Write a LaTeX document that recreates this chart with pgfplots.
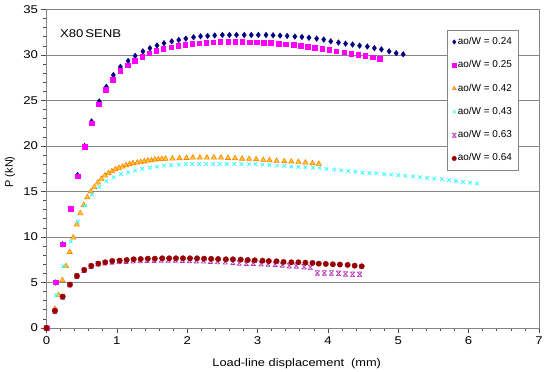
\documentclass[border=0pt]{standalone}
\usepackage{fontspec}
\setmainfont{Liberation Sans}
\newfontfamily\widefont[FakeStretch=1.17]{Liberation Sans}
\usepackage{pgfplots}
\pgfplotsset{compat=1.18}
\usetikzlibrary{calc}
\definecolor{navyd}{HTML}{000080}
\definecolor{pinkm}{HTML}{FF00FF}
\definecolor{orgline}{HTML}{FF8000}
\definecolor{orgfill}{HTML}{FFCC33}
\definecolor{cyanx}{HTML}{33FFFF}
\definecolor{purpx}{HTML}{B833B8}
\definecolor{darkred}{HTML}{990000}
\definecolor{gridg}{HTML}{858585}

% x with short bars top and bottom (Excel "star" look)
\pgfdeclareplotmark{xbar}{%
  \pgfpathmoveto{\pgfqpoint{-\pgfplotmarksize}{\pgfplotmarksize}}%
  \pgfpathlineto{\pgfqpoint{\pgfplotmarksize}{-\pgfplotmarksize}}%
  \pgfpathmoveto{\pgfqpoint{-\pgfplotmarksize}{-\pgfplotmarksize}}%
  \pgfpathlineto{\pgfqpoint{\pgfplotmarksize}{\pgfplotmarksize}}%
  \pgfpathmoveto{\pgfqpoint{-\pgfplotmarksize}{\pgfplotmarksize}}%
  \pgfpathlineto{\pgfqpoint{\pgfplotmarksize}{\pgfplotmarksize}}%
  \pgfpathmoveto{\pgfqpoint{-\pgfplotmarksize}{-\pgfplotmarksize}}%
  \pgfpathlineto{\pgfqpoint{\pgfplotmarksize}{-\pgfplotmarksize}}%
  \pgfusepathqstroke}

\begin{document}
\begin{tikzpicture}
\begin{axis}[
  scale only axis, width=492.5bp, height=318.5bp,
  xmin=0, xmax=7, ymin=0, ymax=35,
  xtick={0,1,...,7}, ytick={0,5,...,35},
  minor x tick num=4, minor y tick num=4,
  tick align=outside, tick pos=left,
  major tick length=5bp, minor tick length=3bp,
  ymajorgrids, grid style={draw=gridg, line width=0.9bp},
  axis line style={draw=gridg, line width=0.9bp},
  tick style={draw=black!70, line width=0.6bp},
  ticklabel style={font=\widefont\fontsize{11.3}{13}\selectfont},
  /pgf/number format/assume math mode=true,
  xlabel={Load-line displacement\hspace{0.3em} (mm)}, ylabel={P (kN)},
  every axis x label/.style={at={(axis description cs:0.508,-0.113)}, anchor=center,
    font=\widefont\fontsize{11}{13}\selectfont},
  every axis y label/.style={at={(axis description cs:-0.074,0.49)}, rotate=90, anchor=center,
    font=\fontsize{11}{13}\selectfont},
  clip=false,
  legend style={at={(axis description cs:0.8126,0.9356)}, anchor=north west,
    draw=gridg, line width=0.9bp, inner sep=5bp, row sep=10.3bp,
    font=\fontsize{10}{12}\selectfont,
    nodes={text height=7.5bp, text depth=2.5bp, inner sep=1.5bp}},
  legend cell align=left,
  legend image code/.code={\draw[#1, line width=0.6bp, mark size=2.1bp] plot coordinates {(0.1cm,0cm)};},
]
\addplot[only marks, mark=diamond*, mark size=2.8bp, draw=navyd, fill=navyd] coordinates {
(0,0) (0.13,5.0) (0.23,9.2) (0.34,13.1) (0.44,16.8) (0.54,20.0) (0.64,22.7)
(0.75,24.9) (0.85,26.5) (0.95,27.8) (1.05,28.7) (1.16,29.35) (1.26,29.9)
(1.37,30.4) (1.47,30.75) (1.57,31.05) (1.67,31.3) (1.78,31.5) (1.88,31.65)
(1.98,31.8) (2.09,31.95) (2.19,32.05) (2.29,32.1) (2.39,32.15) (2.50,32.2)
(2.60,32.2) (2.70,32.2) (2.81,32.2) (2.91,32.2) (3.01,32.2) (3.12,32.2)
(3.22,32.17) (3.32,32.13) (3.42,32.1) (3.53,32.03) (3.63,31.98) (3.73,31.9)
(3.84,31.8) (3.94,31.7) (4.04,31.5) (4.15,31.37) (4.25,31.25) (4.35,31.15)
(4.45,31.03) (4.56,30.93) (4.66,30.75) (4.76,30.62) (4.87,30.4) (4.97,30.2)
(5.07,30.08)};
\addlegendentry{ao/W = 0.24}
\addplot[only marks, mark=square*, mark size=2.3bp, draw=pinkm, fill=pinkm] coordinates {
(0,0) (0.13,5.05) (0.23,9.2) (0.34,13.1) (0.44,16.7) (0.54,19.9) (0.64,22.5)
(0.74,24.6) (0.84,26.2) (0.94,27.3) (1.05,28.3) (1.15,28.9) (1.25,29.4)
(1.36,29.8) (1.46,30.2) (1.56,30.5) (1.66,30.67) (1.77,30.85) (1.87,31.03)
(1.97,31.15) (2.07,31.25) (2.17,31.3) (2.27,31.37) (2.37,31.4) (2.47,31.44)
(2.58,31.47) (2.68,31.44) (2.78,31.44) (2.89,31.4) (2.99,31.4) (3.09,31.37)
(3.19,31.33) (3.30,31.26) (3.40,31.18) (3.51,31.1) (3.61,31.0) (3.71,30.93)
(3.81,30.78) (3.92,30.7) (4.02,30.56) (4.12,30.41) (4.23,30.3) (4.33,30.15)
(4.43,30.04) (4.53,29.9) (4.64,29.75) (4.74,29.57)};
\addlegendentry{ao/W = 0.25}
\addplot[only marks, mark=triangle*, mark size=3bp, draw=orgline, fill=orgfill, line width=0.6bp] coordinates {
(0,0) (0.12,2.1) (0.17,3.6) (0.225,5.25) (0.277,6.8) (0.33,8.35) (0.38,9.93)
(0.43,11.36) (0.48,12.6) (0.53,13.5) (0.58,14.37) (0.63,15.0) (0.68,15.47)
(0.73,15.97) (0.78,16.38) (0.83,16.75) (0.88,17.0) (0.93,17.22) (0.98,17.44)
(1.03,17.59) (1.08,17.73) (1.13,17.88) (1.18,18.0) (1.23,18.1) (1.29,18.17)
(1.34,18.25) (1.39,18.3) (1.44,18.39) (1.49,18.43) (1.54,18.5) (1.59,18.54)
(1.64,18.58) (1.69,18.6) (1.79,18.62) (1.89,18.65) (1.99,18.68) (2.08,18.72)
(2.18,18.72) (2.28,18.72) (2.38,18.72) (2.48,18.72) (2.58,18.68) (2.68,18.65)
(2.78,18.6) (2.88,18.58) (2.98,18.54) (3.08,18.47) (3.17,18.43) (3.27,18.36)
(3.38,18.32) (3.48,18.28) (3.58,18.25) (3.68,18.17) (3.78,18.1) (3.87,18.03)};
\addlegendentry{ao/W = 0.42}
\addplot[only marks, mark=x, mark size=2.5bp, draw=cyanx, line width=0.8bp] coordinates {
(0,0) (0.135,3.6) (0.24,6.8) (0.345,9.5) (0.445,11.7) (0.545,13.45) (0.645,14.65)
(0.75,15.5) (0.85,16.15) (0.955,16.56) (1.06,16.9) (1.16,17.1) (1.26,17.3)
(1.36,17.5) (1.47,17.6) (1.57,17.73) (1.67,17.84) (1.77,17.88) (1.88,17.95)
(1.98,18.0) (2.07,18.03) (2.17,18.03) (2.27,18.03) (2.37,18.03) (2.46,18.03)
(2.56,18.03) (2.67,18.03) (2.77,18.0) (2.88,18.0) (2.97,18.0) (3.07,17.95)
(3.17,17.92) (3.28,17.84) (3.38,17.81) (3.48,17.73) (3.58,17.7) (3.68,17.66)
(3.79,17.62) (3.88,17.6) (3.98,17.48) (4.09,17.4) (4.19,17.33) (4.29,17.26)
(4.39,17.18) (4.49,17.07) (4.59,17.04) (4.69,17.0) (4.80,16.9) (4.90,16.85)
(5.00,16.79) (5.10,16.72) (5.21,16.65) (5.31,16.57) (5.41,16.5) (5.51,16.42)
(5.62,16.35) (5.72,16.25) (5.82,16.15) (5.92,16.05) (6.02,15.97) (6.12,15.87)};
\addlegendentry{ao/W = 0.43}
\addplot[only marks, mark=xbar, mark size=2.3bp, draw=purpx, line width=0.7bp] coordinates {
(0,0) (0.12,1.85) (0.23,3.4) (0.33,4.75) (0.43,5.7) (0.53,6.35) (0.63,6.8)
(0.73,7.05) (0.83,7.18) (0.93,7.25) (1.03,7.3) (1.13,7.35) (1.23,7.4)
(1.33,7.42) (1.43,7.45) (1.53,7.45) (1.63,7.47) (1.73,7.47) (1.83,7.47)
(1.93,7.45) (2.03,7.43) (2.13,7.4) (2.23,7.38) (2.33,7.35) (2.43,7.3)
(2.54,7.27) (2.65,7.22) (2.74,7.14) (2.84,7.11) (2.94,7.11) (3.05,7.07)
(3.15,7.04) (3.25,7.0) (3.35,6.93) (3.45,6.85) (3.55,6.82) (3.66,6.74)
(3.75,6.67) (3.85,6.05) (3.95,6.05) (4.05,6.05) (4.15,6.01) (4.25,5.94)
(4.35,5.9) (4.45,5.9)};
\addlegendentry{ao/W = 0.63}
\addplot[only marks, mark=*, mark size=2.7bp, draw=darkred, fill=darkred] coordinates {
(0,0) (0.12,1.9) (0.23,3.45) (0.334,4.77) (0.433,5.72) (0.537,6.38) (0.637,6.82)
(0.737,7.07) (0.835,7.22) (0.935,7.36) (1.04,7.4) (1.14,7.47) (1.24,7.55)
(1.34,7.58) (1.44,7.62) (1.54,7.62) (1.645,7.66) (1.744,7.66) (1.84,7.66)
(1.94,7.66) (2.04,7.66) (2.14,7.66) (2.24,7.62) (2.34,7.6) (2.44,7.58)
(2.55,7.55) (2.65,7.55) (2.76,7.52) (2.86,7.47) (2.96,7.44) (3.07,7.4)
(3.16,7.36) (3.27,7.33) (3.37,7.26) (3.48,7.22) (3.58,7.22) (3.68,7.18)
(3.78,7.15) (3.87,7.07) (3.97,7.04) (4.07,7.0) (4.17,6.97) (4.28,6.93)
(4.38,6.85) (4.48,6.78)};
\addlegendentry{ao/W = 0.64}
\node[anchor=west, font=\widefont\fontsize{11.3}{13}\selectfont, inner sep=0pt] at (axis cs:0.19,32.3) {X80\,SENB};
\coordinate (bl) at (rel axis cs:0,0);
\coordinate (tr) at (rel axis cs:1,1);
\end{axis}
\pgfresetboundingbox
\path[use as bounding box] ($(bl)+(-46.5bp,-44bp)$) rectangle ($(tr)+(11bp,9.5bp)$);
\end{tikzpicture}
\end{document}
